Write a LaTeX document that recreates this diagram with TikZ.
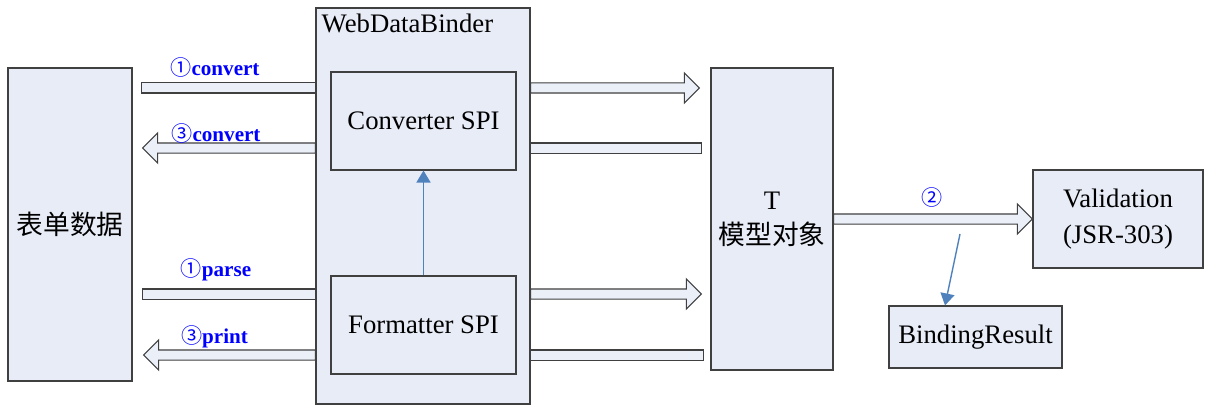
\documentclass[tikz,border=0pt]{standalone}
\usepackage{fontspec}
\setmainfont{Liberation Serif}
\newfontfamily\cjk{Noto Sans CJK SC}
\usetikzlibrary{arrows.meta,calc}
\definecolor{boxfill}{RGB}{232,236,247}
\definecolor{barfill}{RGB}{235,239,248}
\definecolor{boxline}{RGB}{64,64,64}
\definecolor{linkblue}{RGB}{79,129,189}
\definecolor{labelblue}{RGB}{0,0,255}
\newcommand\pxu{0.025cm}
\newcommand\circnum[1]{{\cjk\mdseries #1}}
\tikzset{
  box/.style={
    rectangle,
    draw=boxline,
    fill=boxfill,
    line width=0.8pt,
    align=center,
    inner sep=0pt,
    font=\fontsize{19}{25}\selectfont
  },
  fat/.style={draw=boxline, fill=barfill, line width=0.8pt, line join=miter},
  link/.style={draw=linkblue, line width=1pt, -{Triangle[length=8.5pt,width=10pt]}},
  tag/.style={text=labelblue, anchor=base, inner sep=0pt, font=\fontsize{15}{18}\selectfont\bfseries}
}
% hollow block arrows, tail -> tip
\newcommand\fatright[2]{%
  \path[fat] let \p1=#1, \p2=#2 in
    (\x1,\y1+3.6pt) -- (\x2-10.7pt,\y1+3.6pt) -- (\x2-10.7pt,\y1+10.7pt) -- (\x2,\y1)
    -- (\x2-10.7pt,\y1-10.7pt) -- (\x2-10.7pt,\y1-3.6pt) -- (\x1,\y1-3.6pt) -- cycle;}
\newcommand\fatleft[2]{%
  \path[fat] let \p1=#1, \p2=#2 in
    (\x1,\y1+3.6pt) -- (\x2+10.7pt,\y1+3.6pt) -- (\x2+10.7pt,\y1+10.7pt) -- (\x2,\y1)
    -- (\x2+10.7pt,\y1-10.7pt) -- (\x2+10.7pt,\y1-3.6pt) -- (\x1,\y1-3.6pt) -- cycle;}
\newcommand\fatbar[2]{%
  \path[fat] let \p1=#1, \p2=#2 in
    (\x1,\y1+3.6pt) rectangle (\x2,\y1-3.6pt);}

\begin{document}
\begin{tikzpicture}[x=\pxu, y=-\pxu]
  \useasboundingbox (0,0) rectangle (1217,407);

  \node[box, minimum width=124*\pxu, minimum height=313*\pxu] (form) at (70,224.5) {\cjk 表单数据};
  \node[box, minimum width=214*\pxu, minimum height=396*\pxu] (binder) at (423,206) {};
  \node[anchor=base west, inner sep=0pt, font=\fontsize{19}{25}\selectfont] (title)
    at ($(binder.north west)+(6,25)$) {WebDataBinder};
  \node[box, minimum width=185*\pxu, minimum height=98*\pxu] (conv) at (423.5,121) {Converter SPI};
  \node[box, minimum width=185*\pxu, minimum height=98*\pxu] (fmt) at (423.5,325) {Formatter SPI};
  \node[box, minimum width=122*\pxu, minimum height=302*\pxu] (model) at (772,219) {T\\{\cjk 模型对象}};
  \node[box, minimum width=170*\pxu, minimum height=98*\pxu] (valid) at (1118,219) {Validation\\(JSR-303)};
  \node[box, minimum width=173*\pxu, minimum height=62*\pxu] (result) at (975.5,337) {BindingResult};

  \fatbar{($(form.east |- 0,88)+(9,0)$)}{(binder.west |- 0,88)}
  \fatright{(binder.east |- 0,88)}{($(model.west |- 0,88)+(-11,0)$)}
  \fatleft{(binder.west |- 0,148)}{($(form.east |- 0,148)+(10,0)$)}
  \fatbar{(binder.east |- 0,148)}{($(model.west |- 0,148)+(-9,0)$)}
  \fatbar{($(form.east |- 0,294)+(10,0)$)}{(binder.west |- 0,294)}
  \fatright{(binder.east |- 0,294)}{($(model.west |- 0,294)+(-9,0)$)}
  \fatleft{(binder.west |- 0,355)}{($(form.east |- 0,355)+(11,0)$)}
  \fatbar{(binder.east |- 0,355)}{($(model.west |- 0,355)+(-7,0)$)}
  \fatright{(model.east)}{(valid.west)}

  \node[tag] (lconv1) at (215,76) {\circnum{①}convert};
  \node[tag] (lconv3) at (216,141) {\circnum{③}convert};
  \node[tag] (lparse) at (216,276) {\circnum{①}parse};
  \node[tag] (lprint) at (214.5,343) {\circnum{③}print};
  \node[tag, anchor=center] (lvalid) at (932,197) {\circnum{②}};

  \draw[link] (fmt) -- (conv);
  \coordinate (split) at (960,234);
  \draw[link] (split) -- (result.north -| 945,0);
\end{tikzpicture}
\end{document}
